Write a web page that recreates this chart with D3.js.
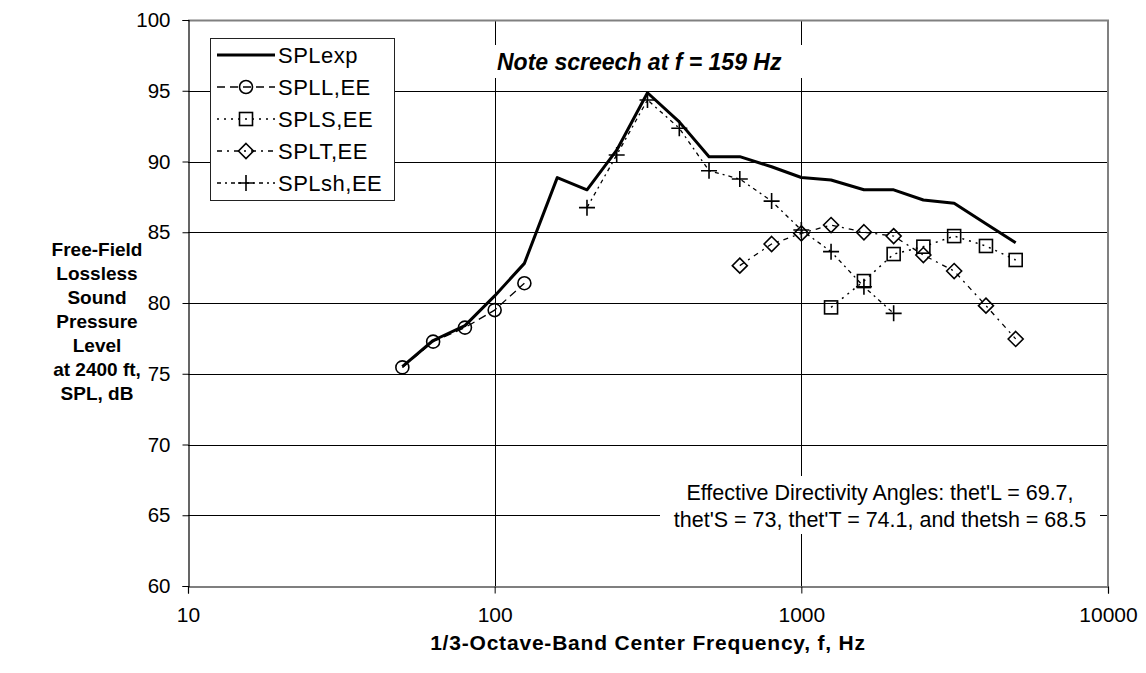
<!DOCTYPE html>
<html>
<head>
<meta charset="utf-8">
<script src="https://cdn.jsdelivr.net/npm/d3@7/dist/d3.min.js"></script>
<style>
  html, body { margin: 0; padding: 0; background: #fff; }
  svg { display: block; font-family: "Liberation Sans", Arial, sans-serif; }
</style>
</head>
<body>
<svg id="chart" width="1146" height="673"></svg>
<script>
// 1/3-octave band centre frequencies (Hz)
const freqExp = [50, 63, 80, 100, 125, 160, 200, 250, 315, 400, 500, 630, 800, 1000, 1250, 1600, 2000, 2500, 3150, 4000, 5000];
const splExp  = [75.5, 77.35, 78.4, 80.5, 82.8, 88.86, 88.0, 90.8, 94.86, 92.8, 90.34, 90.34, 89.63, 88.87, 88.69, 88.0, 88.0, 87.28, 87.05, 85.6, 84.26];

const freqL = [50, 63, 80, 100, 125];
const splL  = [75.45, 77.27, 78.26, 79.5, 81.4];

const freqS = [1250, 1600, 2000, 2500, 3150, 4000, 5000];
const splS  = [79.69, 81.55, 83.46, 83.98, 84.73, 84.03, 83.04];

const freqT = [630, 800, 1000, 1250, 1600, 2000, 2500, 3150, 4000, 5000];
const splT  = [82.64, 84.17, 84.92, 85.51, 85.0, 84.73, 83.39, 82.26, 79.81, 77.46];

const freqSh = [200, 250, 315, 400, 500, 630, 800, 1000, 1250, 1600, 2000];
const splSh  = [86.74, 90.46, 94.35, 92.35, 89.35, 88.76, 87.2, 85.16, 83.63, 81.15, 79.27];

const xTicks = [10, 100, 1000, 10000];
const yTicks = [60, 65, 70, 75, 80, 85, 90, 95, 100];

const seriesNames = ["SPLexp", "SPLL,EE", "SPLS,EE", "SPLT,EE", "SPLsh,EE"];

const yTitleLines = ["Free-Field", "Lossless", "Sound", "Pressure", "Level", "at 2400 ft,", "SPL, dB"];
const xTitle = "1/3-Octave-Band Center Frequency, f, Hz";
const noteText = "Note screech at f = 159 Hz";
const angleLines = ["Effective Directivity Angles: thet'L = 69.7,", "thet'S = 73, thet'T = 74.1, and thetsh = 68.5"];

// ---- layout ----
const plotL = 188, plotR = 1108, plotT = 20, plotB = 586;

const svg = d3.select("#chart");
const x = d3.scaleLog().domain([10, 10000]).range([plotL, plotR]);
const y = d3.scaleLinear().domain([60, 100]).range([plotB, plotT]);

// horizontal gridlines
svg.append("g").selectAll("line").data(yTicks.filter(v => v > 60 && v < 100)).join("line")
  .attr("x1", plotL).attr("x2", plotR)
  .attr("y1", d => Math.round(y(d)) + 0.5).attr("y2", d => Math.round(y(d)) + 0.5)
  .attr("stroke", "#000").attr("stroke-width", 1);

// vertical gridlines at decades
svg.append("g").selectAll("line").data(xTicks.filter(v => v > 10 && v < 10000)).join("line")
  .attr("y1", plotT).attr("y2", plotB)
  .attr("x1", d => Math.round(x(d)) + 0.5).attr("x2", d => Math.round(x(d)) + 0.5)
  .attr("stroke", "#000").attr("stroke-width", 1);

// plot-area frame (top and right)
svg.append("path")
  .attr("d", `M${plotL},${plotT + 0.5}H${plotR}V${plotB}`)
  .attr("fill", "none").attr("stroke", "#808080").attr("stroke-width", 2);

// axes
const yAxis = d3.axisLeft(y).tickValues(yTicks).tickSize(6).tickPadding(12).tickFormat(d3.format("d"));
const gy = svg.append("g").attr("transform", `translate(${plotL + 0.5},0)`).call(yAxis);
gy.select(".domain").attr("stroke", "#000").attr("stroke-width", 1.2);
gy.selectAll(".tick line").attr("stroke", "#000");
gy.selectAll(".tick text").attr("font-size", 20.5).attr("fill", "#000").attr("font-family", "Liberation Sans, Arial, sans-serif");

const xAxis = d3.axisBottom(x).tickValues(xTicks).tickSize(7).tickPadding(14).tickFormat(d3.format("d"));
const gx = svg.append("g").attr("transform", `translate(0,${plotB + 0.5})`).call(xAxis);
gx.select(".domain").attr("stroke", "#000").attr("stroke-width", 1.2);
gx.selectAll(".tick line").attr("stroke", "#000");
gx.selectAll(".tick text").attr("font-size", 21).attr("fill", "#000").attr("font-family", "Liberation Sans, Arial, sans-serif");

// axis titles
svg.append("text")
  .attr("x", 648).attr("y", 650)
  .attr("text-anchor", "middle").attr("font-weight", "bold").attr("font-size", 21)
  .attr("letter-spacing", 0.8)
  .text(xTitle);

svg.append("g").selectAll("text").data(yTitleLines).join("text")
  .attr("x", 97).attr("y", (d, i) => 256 + i * 24)
  .attr("text-anchor", "middle").attr("font-weight", "bold").attr("font-size", 19)
  .text(d => d);

// ---- series ----
const line = d3.line().x(d => x(d[0])).y(d => y(d[1]));

const series = [
  { name: seriesNames[0], f: freqExp, v: splExp, dash: null, width: 3, marker: null },
  { name: seriesNames[1], f: freqL, v: splL, dash: "8,5", width: 1.3, marker: "circle" },
  { name: seriesNames[2], f: freqS, v: splS, dash: "2,5", width: 1.5, marker: "square" },
  { name: seriesNames[3], f: freqT, v: splT, dash: "5,5,2,5", width: 1.3, marker: "diamond" },
  { name: seriesNames[4], f: freqSh, v: splSh, dash: "4,4,2,4", width: 1.3, marker: "plus" }
];

function drawMarker(g, type, cx, cy) {
  let el;
  if (type === "circle") {
    el = g.append("circle").attr("cx", cx).attr("cy", cy).attr("r", 6.5);
  } else if (type === "square") {
    el = g.append("rect").attr("x", cx - 6.5).attr("y", cy - 6.5).attr("width", 13).attr("height", 13);
  } else if (type === "diamond") {
    el = g.append("path").attr("d", `M${cx},${cy - 7.5}L${cx + 7.5},${cy}L${cx},${cy + 7.5}L${cx - 7.5},${cy}Z`);
  } else if (type === "plus") {
    el = g.append("path").attr("d", `M${cx - 8},${cy}H${cx + 8}M${cx},${cy - 8}V${cy + 8}`);
  }
  if (el) el.attr("fill", "none").attr("stroke", "#000").attr("stroke-width", 1.6);
}

// draw dashed series first, solid experimental curve on top of them
[1, 2, 3, 4, 0].forEach(i => {
  const sr = series[i];
  const pts = sr.f.map((f, j) => [f, sr.v[j]]);
  const g = svg.append("g");
  g.append("path").datum(pts)
    .attr("d", line).attr("fill", "none").attr("stroke", "#000")
    .attr("stroke-width", sr.width).attr("stroke-linejoin", "round")
    .attr("stroke-dasharray", sr.dash);
  if (sr.marker) pts.forEach(p => drawMarker(g, sr.marker, x(p[0]), y(p[1])));
});

// ---- legend ----
const lg = svg.append("g");
lg.append("rect").attr("x", 210.5).attr("y", 38.5).attr("width", 184).attr("height", 162)
  .attr("fill", "#fff").attr("stroke", "#222").attr("stroke-width", 1);
series.forEach((sr, i) => {
  const cy = 55 + i * 32;
  lg.append("line").attr("x1", 217).attr("x2", 275).attr("y1", cy).attr("y2", cy)
    .attr("stroke", "#000").attr("stroke-width", sr.width).attr("stroke-dasharray", sr.dash);
  if (sr.marker) drawMarker(lg, sr.marker, 246, cy);
  lg.append("text").attr("x", 278).attr("y", cy).attr("dy", "0.36em")
    .attr("font-size", 22).attr("letter-spacing", 0.5).text(sr.name);
});

// ---- annotations ----
const note = svg.append("g");
note.append("rect").attr("x", 490).attr("y", 45).attr("width", 318).attr("height", 33).attr("fill", "#fff");
note.append("text").attr("x", 497).attr("y", 62).attr("dy", "0.36em")
  .attr("font-size", 23).attr("font-weight", "bold").attr("font-style", "italic").text(noteText);

const ang = svg.append("g");
ang.append("rect").attr("x", 660).attr("y", 476).attr("width", 440).attr("height", 58).attr("fill", "#fff");
ang.selectAll("text").data(angleLines).join("text")
  .attr("x", 880).attr("y", (d, i) => 492 + i * 27).attr("dy", "0.36em")
  .attr("text-anchor", "middle").attr("font-size", 21.5).text(d => d);
</script>
</body>
</html>
